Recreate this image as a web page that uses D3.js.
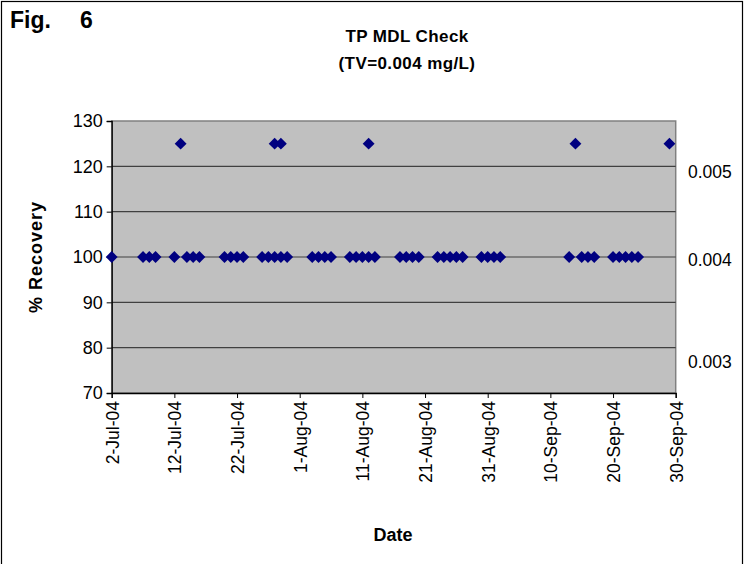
<!DOCTYPE html>
<html><head><meta charset="utf-8">
<script src="https://cdn.jsdelivr.net/npm/d3@7"></script>
<style>body{margin:0;background:#fff;}svg{display:block;font-family:"Liberation Sans",Arial,sans-serif;}</style>
</head><body>
<svg id="c" width="746" height="564"></svg>
<script>
// ---- data ----
const datesAt100 = ["2004-07-02","2004-07-07","2004-07-08","2004-07-09","2004-07-12","2004-07-14","2004-07-15","2004-07-16",
  "2004-07-20","2004-07-21","2004-07-22","2004-07-23","2004-07-26","2004-07-27","2004-07-28","2004-07-29","2004-07-30",
  "2004-08-03","2004-08-04","2004-08-05","2004-08-06","2004-08-09","2004-08-10","2004-08-11","2004-08-12","2004-08-13",
  "2004-08-17","2004-08-18","2004-08-19","2004-08-20","2004-08-23","2004-08-24","2004-08-25","2004-08-26","2004-08-27",
  "2004-08-30","2004-08-31","2004-09-01","2004-09-02","2004-09-13","2004-09-15","2004-09-16","2004-09-17",
  "2004-09-20","2004-09-21","2004-09-22","2004-09-23","2004-09-24"];
const datesAt125 = ["2004-07-13","2004-07-28","2004-07-29","2004-08-12","2004-09-14","2004-09-29"];
const recovery100 = datesAt100.map(() => 100);
const recovery125 = datesAt125.map(() => 125);
const yTicks = [70, 80, 90, 100, 110, 120, 130];
const xTickDates = ["2004-07-02","2004-07-12","2004-07-22","2004-08-01","2004-08-11","2004-08-21","2004-08-31","2004-09-10","2004-09-20","2004-09-30"];
const rightLabels = ["0.005", "0.004", "0.003"];
const rightLabelValues = [118.8, 99.3, 76.8];

// ---- drawing ----
const parse = d3.timeParse("%Y-%m-%d");
const fmt = d3.timeFormat("%-d-%b-%y");
const svg = d3.select("#c");
const L = 111.7, R = 675.7, T = 121, B = 393;
const FF = "Liberation Sans, Arial, sans-serif";

svg.append("rect").attr("x", 1.5).attr("y", 1.5).attr("width", 741).attr("height", 580)
  .attr("fill", "#fff").attr("stroke", "#000").attr("stroke-width", 1.2);

const x = d3.scaleTime().domain([parse("2004-07-02"), parse("2004-09-30")]).range([L, R]);
const y = d3.scaleLinear().domain([70, 130]).range([B, T]);

svg.append("rect").attr("x", L).attr("y", T).attr("width", R - L).attr("height", B - T)
  .attr("fill", "#C0C0C0").attr("stroke", "#808080").attr("stroke-width", 1.5);

// gridlines
svg.append("g").selectAll("line").data(yTicks.filter(v => v > 70 && v < 130)).join("line")
  .attr("x1", L).attr("x2", R).attr("y1", d => y(d)).attr("y2", d => y(d))
  .attr("stroke", "#404040").attr("stroke-width", 1.2);

// left axis
const ya = svg.append("g").attr("transform", `translate(${L},0)`)
  .call(d3.axisLeft(y).tickValues(yTicks).tickSize(5).tickPadding(4));
ya.select(".domain").attr("stroke", "#000").attr("stroke-width", 1.3);
ya.selectAll(".tick line").attr("stroke", "#000");
ya.selectAll("text").attr("font-size", 18).attr("fill", "#000").attr("font-family", FF);

// bottom axis
const xa = svg.append("g").attr("transform", `translate(0,${B})`)
  .call(d3.axisBottom(x).tickValues(xTickDates.map(parse)).tickFormat(fmt).tickSize(5));
xa.select(".domain").attr("stroke", "#000").attr("stroke-width", 1.3);
xa.selectAll(".tick line").attr("stroke", "#000");
xa.selectAll("text").attr("font-size", 17.5).attr("fill", "#000")
  .attr("font-family", FF)
  .attr("transform", "rotate(-90)").attr("text-anchor", "end")
  .attr("x", -8).attr("y", 0).attr("dy", "0.36em");

// markers
const diamond = d3.symbol().type(d3.symbolDiamond2).size(90);
const pts = datesAt100.map((d, i) => ({ d: parse(d), v: recovery100[i] }))
  .concat(datesAt125.map((d, i) => ({ d: parse(d), v: recovery125[i] })));
svg.append("g").selectAll("path").data(pts).join("path")
  .attr("d", diamond).attr("transform", p => `translate(${x(p.d)},${y(p.v)})`)
  .attr("fill", "#000080");

// right labels
svg.append("g").selectAll("text").data(rightLabels).join("text")
  .attr("x", 688).attr("y", (d, i) => y(rightLabelValues[i])).attr("dy", "0.36em")
  .attr("font-size", 17.5).attr("fill", "#000").text(d => d);

// titles
svg.append("text").attr("x", 10).attr("y", 28).attr("font-size", 23).attr("font-weight", "bold").text("Fig.");
svg.append("text").attr("x", 80).attr("y", 28).attr("font-size", 23).attr("font-weight", "bold").text("6");
svg.append("text").attr("x", 407).attr("y", 42).attr("text-anchor", "middle").attr("font-size", 17).attr("font-weight", "bold").attr("letter-spacing", 0.4).text("TP MDL Check");
svg.append("text").attr("x", 407).attr("y", 69).attr("text-anchor", "middle").attr("font-size", 17).attr("font-weight", "bold").attr("letter-spacing", 0.4).text("(TV=0.004 mg/L)");
svg.append("text").attr("transform", `translate(42,${(T + B) / 2}) rotate(-90)`).attr("text-anchor", "middle")
  .attr("font-size", 18).attr("font-weight", "bold").attr("letter-spacing", 1).text("% Recovery");
svg.append("text").attr("x", 393).attr("y", 541).attr("text-anchor", "middle").attr("font-size", 18).attr("font-weight", "bold").text("Date");
</script>
</body></html>
